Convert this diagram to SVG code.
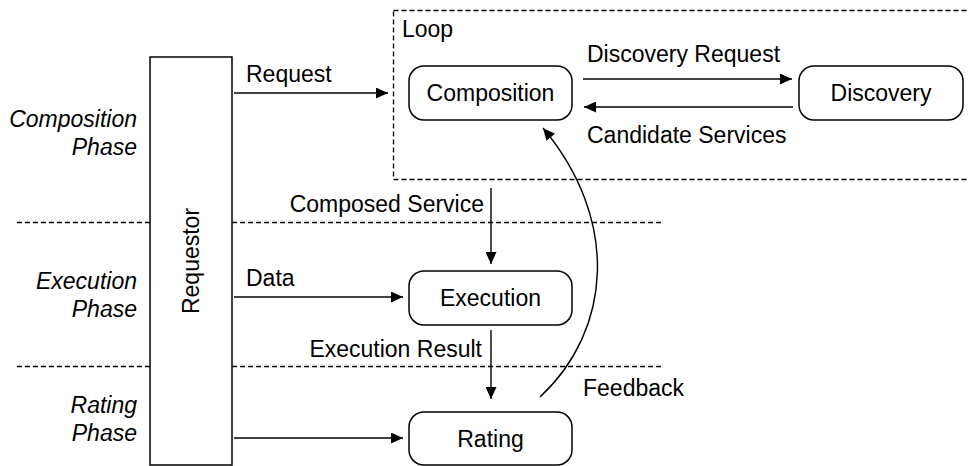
<svg xmlns="http://www.w3.org/2000/svg" width="968" height="466" viewBox="0 0 968 466">
  <defs>
    <style>
      text { font-family: "Liberation Sans", Arial, sans-serif; font-size: 23px; fill: #000; }
      .phase { font-style: italic; text-anchor: end; }
      .node rect { fill: #fff; stroke: #000; stroke-width: 1.5; }
      .node text { text-anchor: middle; }
      .dash { fill: none; stroke: #000; stroke-width: 1.3; stroke-dasharray: 5 3; }
      .edge { fill: none; stroke: #000; stroke-width: 1.4; }
    </style>
    <marker id="arrow" markerUnits="userSpaceOnUse" markerWidth="12" markerHeight="11" refX="12" refY="5.5" orient="auto">
      <path d="M0,0 L12,5.5 L0,11 Z" fill="#000"/>
    </marker>
  </defs>

  <!-- phase separators -->
  <g id="phases">
    <line class="dash" x1="17" y1="222.5" x2="150" y2="222.5"/>
    <line class="dash" x1="232" y1="222.5" x2="664" y2="222.5"/>
    <line class="dash" x1="17" y1="366.5" x2="150" y2="366.5"/>
    <line class="dash" x1="232" y1="366.5" x2="664" y2="366.5"/>
    <text class="phase" x="137" y="127">Composition</text>
    <text class="phase" x="137" y="155">Phase</text>
    <text class="phase" x="137" y="289">Execution</text>
    <text class="phase" x="137" y="317">Phase</text>
    <text class="phase" x="137" y="413">Rating</text>
    <text class="phase" x="137" y="441">Phase</text>
  </g>

  <!-- loop frame -->
  <g id="loop">
    <rect class="dash" x="393.5" y="10.5" width="590" height="169"/>
    <text x="402" y="37">Loop</text>
  </g>

  <!-- requestor lifeline -->
  <g id="requestor" class="node">
    <rect x="150" y="57" width="82" height="408"/>
    <text transform="translate(199,261) rotate(-90)">Requestor</text>
  </g>

  <g id="composition" class="node">
    <rect x="409" y="66" width="163" height="54" rx="15"/>
    <text x="490.5" y="101">Composition</text>
  </g>

  <g id="discovery" class="node">
    <rect x="799" y="66" width="164" height="54" rx="15"/>
    <text x="881" y="101">Discovery</text>
  </g>

  <g id="execution" class="node">
    <rect x="409" y="271" width="163" height="54" rx="15"/>
    <text x="490.5" y="306">Execution</text>
  </g>

  <g id="rating" class="node">
    <rect x="409" y="412" width="163" height="53" rx="15"/>
    <text x="490.5" y="447">Rating</text>
  </g>

  <!-- connectors -->
  <g id="connectors">
    <line class="edge" x1="234" y1="93" x2="388" y2="93" marker-end="url(#arrow)"/>
    <text x="246" y="82">Request</text>

    <line class="edge" x1="583" y1="79" x2="792" y2="79" marker-end="url(#arrow)"/>
    <text x="587" y="62">Discovery Request</text>

    <line class="edge" x1="793" y1="107" x2="584" y2="107" marker-end="url(#arrow)"/>
    <text x="587" y="143">Candidate Services</text>

    <line class="edge" x1="491" y1="188" x2="491" y2="264" marker-end="url(#arrow)"/>
    <text x="484" y="212" text-anchor="end">Composed Service</text>

    <line class="edge" x1="234" y1="297" x2="403" y2="297" marker-end="url(#arrow)"/>
    <text x="246" y="286">Data</text>

    <line class="edge" x1="491" y1="330" x2="491" y2="399" marker-end="url(#arrow)"/>
    <text x="482" y="357" text-anchor="end">Execution Result</text>

    <line class="edge" x1="234" y1="438" x2="403" y2="438" marker-end="url(#arrow)"/>

    <path class="edge" d="M540,397 C612,330 620,220 543,128" marker-end="url(#arrow)"/>
    <text x="583" y="396">Feedback</text>
  </g>
</svg>
